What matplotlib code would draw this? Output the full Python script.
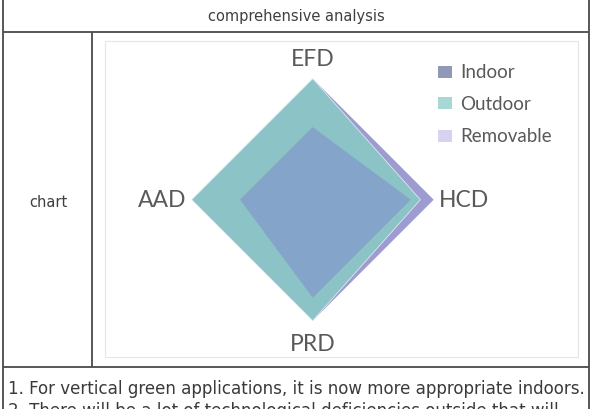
import numpy as np
import matplotlib
matplotlib.use("Agg")
import matplotlib.pyplot as plt
from matplotlib.patches import Rectangle

# ---- data ----
categories = ["EFD", "HCD", "PRD", "AAD"]
series_names = ["Indoor", "Outdoor", "Removable"]
indoor = [3.0, 4.05, 4.05, 3.0]
outdoor = [5.0, 4.45, 5.0, 5.0]
removable = [5.0, 5.0, 5.0, 3.0]
max_value = 5.0

header_text = "comprehensive analysis"
row_label = "chart"
note_lines = [
    "1. For vertical green applications, it is now more appropriate indoors.",
    "2. There will be a lot of technological deficiencies outside that will",
]

fill_colors = {"Indoor": "#84a5c9", "Outdoor": "#8cc3c6", "Removable": "#9d9bd0"}
legend_colors = {"Indoor": "#9098ba", "Outdoor": "#a8d8d4", "Removable": "#d6d3f0"}

W, H = 592, 410
fig = plt.figure(figsize=(W / 100, H / 100), dpi=100)
fig.patch.set_facecolor("white")

ov = fig.add_axes([0, 0, 1, 1])
ov.set_xlim(0, W)
ov.set_ylim(H, 0)
ov.axis("off")

line_kw = dict(color="#4a4a4a", lw=1.3, solid_capstyle="butt")
ov.plot([3, 3], [0, H], **line_kw)
ov.plot([589, 589], [0, H], **line_kw)
ov.plot([3, 589], [33, 33], **line_kw)
ov.plot([3, 589], [368, 368], **line_kw)
ov.plot([92, 92], [33, 368], **line_kw)

ov.add_patch(Rectangle((105, 42), 473, 316, fill=False, ec="#e6e6e6", lw=0.8))

ov.text(296, 17, header_text, ha="center", va="center", fontsize=10.5,
        color="#3f3f3f", family="DejaVu Sans")
ov.text(48, 203, row_label, ha="center", va="center", fontsize=10.5,
        color="#3f3f3f", family="DejaVu Sans")

# bottom notes: fit line 1 to the cell width
note_fs = 12.5
t0 = ov.text(8, 394, note_lines[0], ha="left", va="baseline", fontsize=note_fs,
             color="#3a3a3a", family="DejaVu Sans", fontstretch="condensed")
fig.canvas.draw()
bb = t0.get_window_extent()
note_fs = note_fs * (577.0 / bb.width)
t0.set_fontsize(note_fs)
ov.text(8, 394 + 22, note_lines[1], ha="left", va="baseline", fontsize=note_fs,
        color="#3a3a3a", family="DejaVu Sans", fontstretch="condensed")

# radar axes
cx, cy, R = 312.7, 200.7, 121.0
ax = fig.add_axes([(cx - R) / W, (H - cy - R) / H, 2 * R / W, 2 * R / H],
                  projection="polar")
ax.set_theta_zero_location("N")
ax.set_theta_direction(-1)
ax.set_ylim(0, max_value)
ax.axis("off")
ax.patch.set_alpha(0)

angles = np.linspace(0, 2 * np.pi, len(categories), endpoint=False)
ang_closed = np.concatenate([angles, angles[:1]])
data = {"Indoor": indoor, "Outdoor": outdoor, "Removable": removable}
for z, name in enumerate(["Removable", "Outdoor", "Indoor"]):
    vals = np.array(data[name] + data[name][:1])
    ax.fill(ang_closed, vals, color=fill_colors[name], zorder=2 + z, lw=0)
    if name == "Outdoor":
        ax.plot(ang_closed, vals, color="#dfe9f0", lw=0.6, zorder=2 + z)

label_r = [1.17, 1.045, 1.19, 1.045]
label_ha = ["center", "left", "center", "right"]
for a, lab, r, ha in zip(angles, categories, label_r, label_ha):
    ax.text(a, r * max_value, lab, ha=ha, va="center", fontsize=16.5,
            color="#595959", family="Lato", clip_on=False)

leg_y = [73, 104, 137]
for name, y in zip(series_names, leg_y):
    ov.add_patch(Rectangle((438, y - 6), 14, 12, color=legend_colors[name], lw=0))
    ov.text(460, y, name, ha="left", va="center", fontsize=13.5,
            color="#595959", family="Lato")

fig.savefig("out.png", dpi=100)
